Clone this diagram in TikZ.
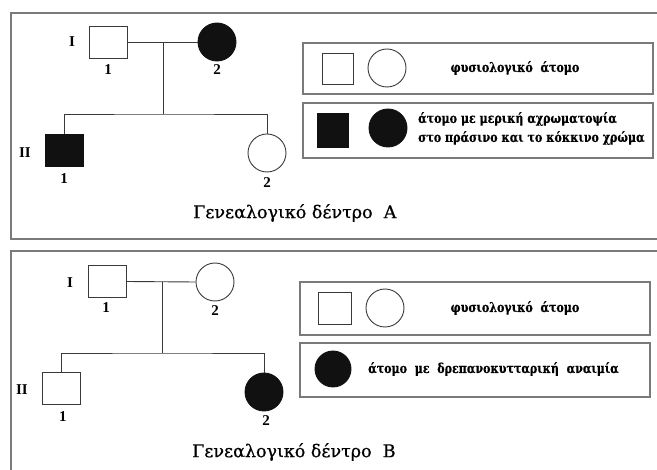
\documentclass[tikz,border=0pt]{standalone}
\usepackage{fontspec}
\setmainfont{Liberation Serif}
\newfontfamily\titlefont[FakeBold=0.7]{DejaVu Serif}
\newfontfamily\legfont[FakeBold=0.5]{DejaVu Serif Bold}
\definecolor{framegray}{HTML}{7A7A7A}
\definecolor{symline}{HTML}{3A3A3A}
\definecolor{fillblk}{HTML}{111111}
\newcommand{\legsq}[1]{\scalebox{0.82}[1]{#1}}
\begin{document}
\begin{tikzpicture}[x=1pt,y=-1pt,
  frame/.style={draw=framegray,line width=1.4pt},
  legbox/.style={draw=framegray,line width=1.2pt},
  male/.style={draw=symline,line width=0.9pt,rectangle,minimum width=38pt,minimum height=32pt,inner sep=0pt},
  female/.style={draw=symline,line width=0.9pt,circle,minimum size=38pt,inner sep=0pt},
  aff/.style={fill=fillblk,draw=fillblk},
  link/.style={draw=symline,line width=0.9pt},
  num/.style={font=\fontsize{15}{15}\selectfont\bfseries,inner sep=0pt},
  gen/.style={font=\fontsize{15}{15}\selectfont\bfseries,inner sep=0pt},
  ttl/.style={font=\titlefont\fontsize{17.5}{17.5}\selectfont,inner sep=0pt,anchor=west},
  legtxt/.style={font=\legfont\fontsize{13.5}{19}\selectfont,inner sep=0pt}
]
\useasboundingbox (0,0) rectangle (657,470);
% ---------- Frame A ----------
\draw[frame] (657,13) -- (11,13) -- (11,239) -- (657,239);
\node[gen] (gIa) at (72,42) {I};
\node[gen] (gIIa) at (25,153) {II};
\node[male] (a1) at (108.5,42) {};
\node[female,aff] (a2) at (217,42) {};
\node[male,aff] (a3) at (64,150) {};
\node[female] (a4) at (267,153) {};
\node[num] (na1) at (108,70) {1};
\node[num] (na2) at (217,70) {2};
\node[num] (na3) at (64,179) {1};
\node[num] (na4) at (267,183) {2};
\coordinate (am) at (163,42);
\coordinate (as) at (163,114);
\draw[link] (a1.east) -- (a2.west);
\draw[link] (am) -- (as);
\draw[link] (a3.north) |- (as) -| (a4.north);
\node[ttl] (ta) at (193,213) {Γενεαλογικό δέντρο\ \ Α};
% legend A
\draw[legbox] (303,43) rectangle (653,94);
\draw[legbox] (303,103) rectangle (653,158);
\node[male,minimum width=31pt,minimum height=31pt] (la1) at (337.5,68.5) {};
\node[female] (la2) at (387,68) {};
\node[legtxt] (lat1) at (515,68) {\legsq{φυσιολογικό\ \ άτομο}};
\node[male,aff,minimum width=31pt,minimum height=34pt] (la3) at (332.5,130) {};
\node[female,aff] (la4) at (388,128) {};
\node[legtxt,anchor=west,align=left] (lat2) at (418,128.5) {\legsq{άτομο με μερική αχρωματοψία}\\\legsq{στο πράσινο και το κόκκινο χρώμα}};
% ---------- Frame B ----------
\draw[frame] (657,251) -- (11,251) -- (11,470);
\node[gen] (gIb) at (70,283) {I};
\node[gen] (gIIb) at (22,390) {II};
\node[male] (b1) at (107,281.5) {};
\node[female] (b2) at (215,282) {};
\node[male] (b3) at (61,388) {};
\node[female,aff] (b4) at (264,392) {};
\node[num] (nb1) at (106,308) {1};
\node[num] (nb2) at (215,311) {2};
\node[num] (nb3) at (63,417) {1};
\node[num] (nb4) at (266,421) {2};
\coordinate (bm) at (162,282);
\coordinate (bs) at (162,353);
\draw[link] (b1.east) -- (b2.west);
\draw[link] (bm) -- (bs);
\draw[link] (b3.north) |- (bs) -| (b4.north);
\node[ttl] (tb) at (192,452) {Γενεαλογικό δέντρο\ \ Β};
% legend B
\draw[legbox] (300,282) rectangle (650,335);
\draw[legbox] (300,343) rectangle (650,397);
\node[male,minimum width=33pt,minimum height=32pt] (lb1) at (334.5,308) {};
\node[female] (lb2) at (385,308) {};
\node[legtxt] (lbt1) at (515,308) {\legsq{φυσιολογικό\ \ άτομο}};
\node[female,aff,minimum size=36pt] (lb3) at (333,369) {};
\node[legtxt,anchor=west] (lbt2) at (368,369) {\legsq{άτομο\ \ με\ \ δρεπανοκυτταρική\ \ αναιμία}};
\end{tikzpicture}
\end{document}
